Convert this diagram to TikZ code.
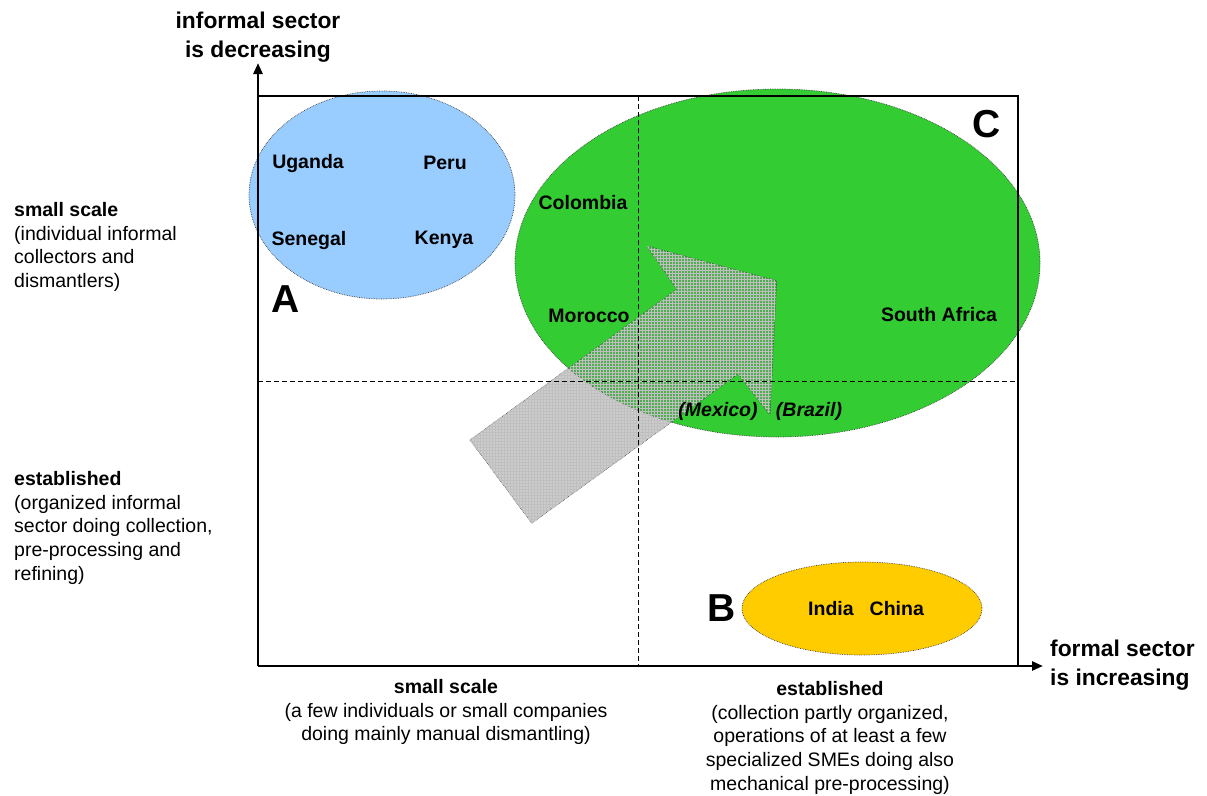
\documentclass[tikz,border=0pt]{standalone}
\usepackage{fontspec}
\setmainfont{Liberation Sans}
\usetikzlibrary{arrows.meta,patterns}
\definecolor{blueA}{HTML}{99CCFF}
\definecolor{greenC}{HTML}{33CC33}
\definecolor{orangeB}{HTML}{FFCC00}
\begin{document}
\begin{tikzpicture}[x=1pt,y=-1pt,
  country/.style={font=\fontsize{19.5}{23.7}\selectfont\bfseries, inner sep=0pt},
  countryit/.style={font=\fontsize{19.5}{23.7}\selectfont\bfseries\itshape, inner sep=0pt},
  bigletter/.style={font=\fontsize{39}{40}\selectfont\bfseries, inner sep=0pt},
  axistitle/.style={font=\fontsize{22.8}{28.5}\selectfont\bfseries, inner sep=0pt},
  desc/.style={font=\fontsize{19.5}{23.7}\selectfont, inner sep=0pt},
  blob/.style={draw=black!75, densely dotted, line width=0.7pt},
  frame/.style={line width=2.6pt},
  quad/.style={dash pattern=on 5pt off 3pt, line width=0.9pt},
  bigarrow/.style={draw=black!80, densely dotted, line width=0.6pt, fill=gray, fill opacity=0.4}
]
\useasboundingbox (0,0) rectangle (1207,795);

% ellipses
\draw[blob, fill=blueA] (382,195) ellipse [x radius=133, y radius=104];
\draw[blob, fill=greenC] (777.5,263) ellipse [x radius=262.5, y radius=174];
\draw[blob, fill=orangeB] (862,608.5) ellipse [x radius=120, y radius=46.5];

% big arrow
\draw[bigarrow] (470,440) -- (531.7,523.3) -- (738,374) -- (770,415) -- (776.7,280.7) -- (646.7,246) -- (676.7,289.3) -- cycle;
\fill[pattern=grid, pattern color=gray!50] (470,440) -- (531.7,523.3) -- (738,374) -- (770,415) -- (776.7,280.7) -- (646.7,246) -- (676.7,289.3) -- cycle;

% quadrant lines
\coordinate (vtop) at (638,96);
\coordinate (vbot) at (638,666);
\coordinate (hleft) at (258,381);
\coordinate (hright) at (1018,381);
\draw[quad] (vtop) -- (vbot);
\draw[quad] (hleft) -- (hright);

% frame and axes
\coordinate (origin) at (258,666);
\coordinate (ytip) at (258,63);
\coordinate (xtip) at (1043,666);
\draw[frame] (258,96) -- (1018,96) -- (1018,666);
\draw[frame, -{Triangle[length=11pt,width=9pt]}] (origin) -- (ytip);
\draw[frame, -{Triangle[length=11pt,width=9pt]}] (origin) -- (xtip);

% axis titles
\node[axistitle, align=center] (ytitle) at (258,37) {informal sector\\is decreasing};
\node[axistitle, align=left, anchor=west] (xtitle) at (1050,665) {formal sector\\is increasing};

% left descriptions
\node[desc, align=left, anchor=north west] (lsmall) at (14,202) {\textbf{small scale}\\(individual informal\\collectors and\\dismantlers)};
\node[desc, align=left, anchor=north west] (lestab) at (14,471) {\textbf{established}\\(organized informal\\sector doing collection,\\pre-processing and\\refining)};

% bottom descriptions
\node[desc, align=center, anchor=north] (bsmall) at (446,679) {\textbf{small scale}\\(a few individuals or small companies\\doing mainly manual dismantling)};
\node[desc, align=center, anchor=north] (bestab) at (830,681) {\textbf{established}\\(collection partly organized,\\operations of at least a few\\specialized SMEs doing also\\mechanical pre-processing)};

% countries
\node[country] (uganda) at (308,163) {Uganda};
\node[country] (peru) at (445,163) {Peru};
\node[country] (senegal) at (309,240) {Senegal};
\node[country] (kenya) at (444,240) {Kenya};
\node[country] (colombia) at (583,203) {Colombia};
\node[country] (morocco) at (589,316) {Morocco};
\node[country] (safrica) at (939,315) {South Africa};
\node[countryit] (mexico) at (718,411) {(Mexico)};
\node[countryit] (brazil) at (809,411) {(Brazil)};
\node[country] (indiachina) at (866,609) {India\hspace{16pt}China};

% group letters
\node[bigletter] (la) at (286,299) {A};
\node[bigletter] (lb) at (722,608) {B};
\node[bigletter] (lc) at (987,124) {C};
\end{tikzpicture}
\end{document}
